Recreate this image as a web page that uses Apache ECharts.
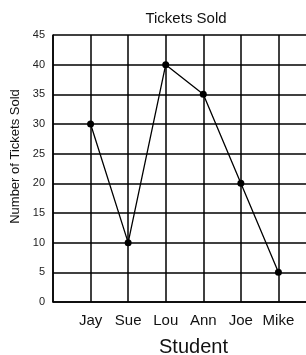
<!DOCTYPE html>
<html>
<head>
<meta charset="utf-8">
<script src="https://cdn.jsdelivr.net/npm/echarts@6/dist/echarts.min.js"></script>
<style>
html, body { margin: 0; padding: 0; background: #fff; }
#chart { width: 306px; height: 355px; }
</style>
</head>
<body>
<div id="chart"></div>
<script>
// students along the x axis; empty slots at both ends keep the points off the frame
var students = ['', 'Jay', 'Sue', 'Lou', 'Ann', 'Joe', 'Mike', ''];
var ticketsSold = [null, 30, 10, 40, 35, 20, 5, null];
var yTicks = [0, 5, 10, 15, 20, 25, 30, 35, 40, 45];

var font = 'Liberation Sans, Arial, sans-serif';
var myChart = echarts.init(document.getElementById('chart'));
var option = {
    animation: false,
    title: {
        text: 'Tickets Sold',
        left: 181,
        top: 6,
        textAlign: 'center',
        textStyle: { fontFamily: font, fontSize: 15, fontWeight: 'normal', color: '#111' }
    },
    grid: {
        left: 53,
        top: 35,
        right: -10,
        bottom: 53,
        outerBoundsMode: 'none'
    },
    xAxis: {
        type: 'category',
        data: students,
        boundaryGap: false,
        name: 'Student',
        nameLocation: 'middle',
        nameGap: 35,
        nameTextStyle: { fontFamily: font, fontSize: 20, color: '#111', padding: [0, 0, 0, 18] },
        axisLine: { lineStyle: { color: '#000', width: 1.5 } },
        axisTick: { show: false },
        axisLabel: { interval: 0, fontFamily: font, fontSize: 15, color: '#111', margin: 11 },
        splitLine: { show: true, interval: 0, lineStyle: { color: '#000', width: 1.5 } }
    },
    yAxis: {
        type: 'value',
        min: yTicks[0],
        max: yTicks[yTicks.length - 1],
        interval: yTicks[1] - yTicks[0],
        name: 'Number of Tickets Sold',
        nameLocation: 'middle',
        nameGap: 30,
        nameRotate: 90,
        nameTextStyle: { fontFamily: font, fontSize: 13, color: '#111', padding: [0, 0, 0, 24] },
        axisLine: { show: true, lineStyle: { color: '#000', width: 1.5 } },
        axisTick: { show: false },
        axisLabel: { fontFamily: font, fontSize: 11, color: '#222', margin: 8 },
        splitLine: { show: true, lineStyle: { color: '#000', width: 1.5 } }
    },
    series: [
        {
            name: 'Tickets Sold',
            type: 'line',
            data: ticketsSold,
            symbol: 'circle',
            symbolSize: 7,
            itemStyle: { color: '#000' },
            lineStyle: { color: '#000', width: 1.3 }
        }
    ]
};
myChart.setOption(option);
</script>
</body>
</html>
